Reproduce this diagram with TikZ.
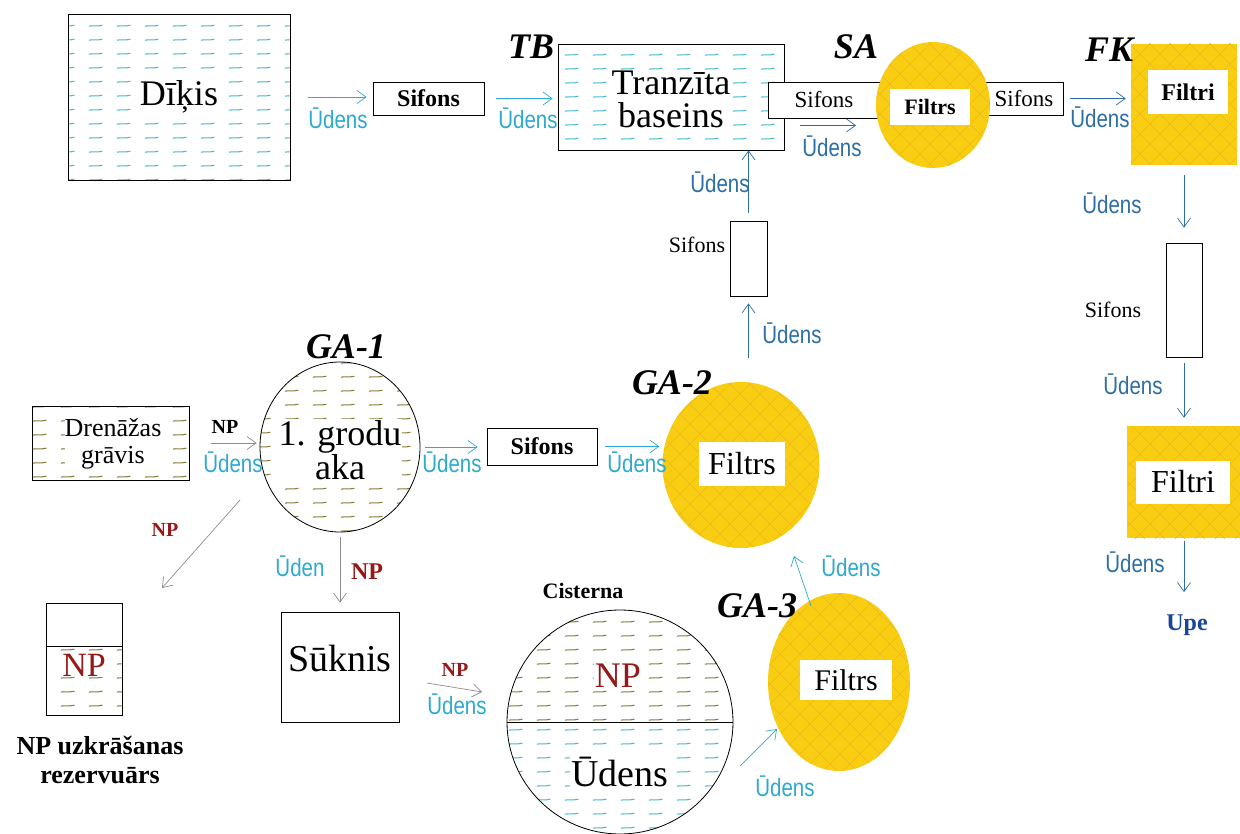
\documentclass[tikz,border=0pt]{standalone}
\usepackage{fontspec}
\setmainfont{Liberation Serif}
\newfontfamily\narrowsans[FakeStretch=0.82]{Liberation Sans}
\usetikzlibrary{arrows.meta,patterns,shapes.geometric}

\definecolor{udens}{RGB}{45,170,205}
\definecolor{udensdark}{RGB}{45,110,165}
\definecolor{npred}{RGB}{150,25,25}
\definecolor{gold}{RGB}{248,205,18}
\definecolor{goldline}{RGB}{238,186,28}
\definecolor{wavecyan}{RGB}{70,185,205}
\definecolor{waveolive}{RGB}{135,125,60}
\definecolor{upeblue}{RGB}{25,70,150}

\pgfdeclarepatternformonly{tildes}{\pgfpoint{0pt}{0pt}}{\pgfpoint{28pt}{13.5pt}}{\pgfpoint{28pt}{13.5pt}}{
  \pgfsetlinewidth{1.1pt}
  \pgfpathmoveto{\pgfpoint{5pt}{6pt}}
  \pgfpathcurveto{\pgfpoint{9pt}{7pt}}{\pgfpoint{13pt}{5.5pt}}{\pgfpoint{19pt}{7pt}}
  \pgfusepath{stroke}
}
\pgfdeclarepatternformonly{diamonds}{\pgfpoint{-1pt}{-1pt}}{\pgfpoint{21pt}{21pt}}{\pgfpoint{20pt}{20pt}}{
  \pgfsetlinewidth{0.6pt}
  \pgfpathmoveto{\pgfpoint{0pt}{0pt}}\pgfpathlineto{\pgfpoint{20pt}{20pt}}
  \pgfpathmoveto{\pgfpoint{0pt}{20pt}}\pgfpathlineto{\pgfpoint{20pt}{0pt}}
  \pgfusepath{stroke}
}

\begin{document}
\begin{tikzpicture}[x=1pt, y=-1pt,
  box/.style={draw, line width=0.8pt, fill=white, inner sep=0pt},
  water/.style={draw, line width=0.8pt, pattern=tildes, pattern color=wavecyan, inner sep=0pt},
  mud/.style={draw, line width=0.8pt, pattern=tildes, pattern color=waveolive, inner sep=0pt},
  filter/.style={fill=gold, postaction={pattern=diamonds, pattern color=goldline}, inner sep=0pt},
  well/.style={ellipse, draw, line width=0.8pt, inner sep=0pt},
  cistern/.style={well, path picture={
    \fill[pattern=tildes, pattern color=waveolive] (path picture bounding box.north west) rectangle (path picture bounding box.east);
    \fill[pattern=tildes, pattern color=wavecyan] (path picture bounding box.west) rectangle (path picture bounding box.south east);
    \draw[line width=0.8pt] (path picture bounding box.west) -- (path picture bounding box.east);}},
  word/.style={fill=white, inner sep=1pt, align=center},
  tag/.style={font=\fontsize{36}{36}\selectfont\bfseries\itshape, inner sep=0pt},
  ulab/.style={text=udens, font=\narrowsans\fontsize{25}{25}\selectfont, inner sep=0pt},
  ulabdark/.style={ulab, text=udensdark},
  nplab/.style={font=\fontsize{20}{20}\selectfont\bfseries, inner sep=0pt},
  flow/.style={draw=udens, line width=0.7pt, -{Straight Barb[length=9pt, width=13pt, line width=0.7pt]}},
  flowdark/.style={flow, draw=udensdark},
  npflow/.style={flow, draw=black!45}]
\useasboundingbox (0,0) rectangle (1240,834);

\node[water, minimum width=222pt, minimum height=166pt] (dikis) at (179,97) {};
\node[word, font=\fontsize{36}{36}\selectfont] (dikistxt) at (dikis) {Dīķis};
\node[box, minimum width=111pt, minimum height=33pt, font=\fontsize{24}{24}\selectfont\bfseries] (sif1) at (428.5,98.5) {Sifons};
\node[water, minimum width=226pt, minimum height=106pt] (tb) at (671,97) {};
\node[word, font=\fontsize{36}{33}\selectfont] (tbtxt) at (671,99) {Tranzīta\\baseins};
\node[box, minimum width=112pt, minimum height=36pt, font=\fontsize{23}{23}\selectfont] (sif2) at (824,100) {Sifons};
\node[box, minimum width=98pt, minimum height=33pt] (sif3) at (1014,98.5) {};
\node[font=\fontsize{23}{23}\selectfont] (sif3txt) at (1024,99) {Sifons};
\node[filter, ellipse, minimum width=114pt, minimum height=126pt] (sa) at (933,105) {};
\node[word, font=\fontsize{22}{22}\selectfont\bfseries, minimum width=80pt, minimum height=36pt] (satxt) at (930,107) {Filtrs};
\node[filter, minimum width=106pt, minimum height=121pt] (fk) at (1184,104.5) {};
\node[word, font=\fontsize{24}{24}\selectfont\bfseries, minimum width=80pt, minimum height=44pt] (fktxt) at (1188,92) {Filtri};
\node[box, minimum width=36pt, minimum height=114pt] (sif4) at (1184,300) {};
\node[font=\fontsize{22}{22}\selectfont] (sif4txt) at (1113,310) {Sifons};
\node[filter, minimum width=114pt, minimum height=112pt] (filtri2) at (1184,482) {};
\node[word, font=\fontsize{32}{32}\selectfont, minimum width=94pt, minimum height=43pt] (filtri2txt) at (1183,482) {Filtri};
\node[font=\fontsize{24}{24}\selectfont\bfseries, text=upeblue] (upe) at (1187,625) {Upe};

\node[box, minimum width=37pt, minimum height=75pt] (sif5) at (748.5,258.5) {};
\node[font=\fontsize{22}{22}\selectfont] (sif5txt) at (697,245) {Sifons};
\node[filter, ellipse, minimum width=157pt, minimum height=166pt] (ga2) at (741,465) {};
\node[word, font=\fontsize{32}{32}\selectfont, minimum width=86pt, minimum height=44pt] (ga2txt) at (742,464) {Filtrs};

\node[mud, minimum width=157pt, minimum height=74pt] (dren) at (110.5,443) {};
\node[word, font=\fontsize{26}{27}\selectfont, inner sep=0pt] (drentxt) at (113,444) {Drenāžas\\grāvis};
\node[well, pattern=tildes, pattern color=waveolive, minimum width=160pt, minimum height=170pt] (ga1) at (340,447) {};
\node[word, font=\fontsize{36}{34}\selectfont] (ga1txt) at (340,450) {1. grodu\\aka};
\node[box, minimum width=110pt, minimum height=37pt, font=\fontsize{24}{24}\selectfont\bfseries] (sif6) at (542,446.5) {Sifons};

\node[box, minimum width=76pt, minimum height=43pt] (restop) at (84,624.5) {};
\node[mud, minimum width=76pt, minimum height=69pt] (resbot) at (84,680.5) {};
\node[word, text=npred, font=\fontsize{34}{34}\selectfont] (restxt) at (84,665) {NP};
\node[font=\fontsize{26}{29}\selectfont\bfseries, align=center] (reslab) at (100,760) {NP uzkrāšanas\\rezervuārs};
\node[box, minimum width=118pt, minimum height=110pt] (suknis) at (340,667) {};
\node[font=\fontsize{38}{38}\selectfont] (suknistxt) at (340,658) {Sūknis};
\node[cistern, minimum width=226pt, minimum height=224pt] (cist) at (620,722) {};
\node[word, text=npred, font=\fontsize{36}{36}\selectfont] (cisttop) at (618,676) {NP};
\node[word, font=\fontsize{38}{38}\selectfont] (cistbot) at (620,772) {Ūdens};
\node[font=\fontsize{22}{22}\selectfont\bfseries] (cistlab) at (583,591) {Cisterna};
\node[filter, ellipse, minimum width=142pt, minimum height=178pt] (ga3) at (839,682) {};
\node[word, font=\fontsize{30}{30}\selectfont, minimum width=92pt, minimum height=40pt] (ga3txt) at (846,680) {Filtrs};

\node[tag] (tbtag) at (531,47) {TB};
\node[tag] (satag) at (856,47) {SA};
\node[tag] (fktag) at (1109,50) {FK};
\node[tag] (ga1tag) at (346,347) {GA-1};
\node[tag] (ga2tag) at (672,383) {GA-2};
\node[tag] (ga3tag) at (757,606) {GA-3};

\draw[flow, shorten <=18pt, shorten >=6pt] (dikis.east) -- (dikis.east -| sif1.west);
\node[ulab] (u1) at (338,118) {Ūdens};
\draw[flow, shorten <=12pt, shorten >=5pt] (sif1.east) -- (sif1.east -| tb.west);
\node[ulab] (u2) at (528,118) {Ūdens};
\draw[flowdark] ([shift={(-24pt,-7pt)}]sif2.south) -- ([shift={(32pt,-7pt)}]sif2.south);
\node[ulabdark] (u3) at (832,146) {Ūdens};
\draw[flowdark, shorten <=7pt, shorten >=5pt] (sif3.east) -- (sif3.east -| fk.west);
\node[ulabdark] (u4) at (1100,117) {Ūdens};
\draw[flowdark, shorten <=10pt, shorten >=15pt] (fk.south) -- (sif4.north);
\node[ulabdark] (u5) at (1112,203) {Ūdens};
\draw[flowdark, shorten <=6pt, shorten >=8pt] (sif4.south) -- (filtri2.north);
\node[ulabdark] (u6) at (1133,384) {Ūdens};
\draw[flowdark, shorten <=3pt, shorten >=19pt] (filtri2.south) -- (filtri2.south |- upe.north);
\node[ulabdark] (u7) at (1135,562) {Ūdens};
\node[ulabdark] (u8) at (720,182) {Ūdens};
\draw[flowdark, shorten <=8pt] (sif5.north) -- (sif5.north |- tb.south);
\draw[flowdark, shorten <=24pt, shorten >=7pt] (sif5.south |- ga2.north) -- (sif5.south);
\node[ulabdark] (u9) at (792,333) {Ūdens};

\draw[npflow, shorten <=22pt, shorten >=3pt] (dren.east) -- (dren.east -| ga1.west);
\node[nplab] (np1) at (225,427) {NP};
\node[ulab] (u10) at (233,462) {Ūdens};
\draw[flow, shorten <=5pt, shorten >=9pt] (ga1.east) -- (ga1.east -| sif6.west);
\node[ulab] (u11) at (452,462) {Ūdens};
\draw[flow, shorten <=8pt, shorten >=3pt] (sif6.east) -- (sif6.east -| ga2.west);
\node[ulab] (u12) at (637,462) {Ūdens};

\coordinate (npfrom) at (240,500);
\coordinate (npto) at (162,588);
\draw[npflow] (npfrom) -- (npto);
\node[nplab, text=npred] (np2) at (165,530) {NP};
\draw[npflow, shorten <=5pt, shorten >=9pt] (ga1.south) -- (suknis.north);
\node[ulab] (u13) at (300,566) {Ūden};
\node[nplab, text=npred, font=\fontsize{24}{24}\selectfont\bfseries] (np3) at (367,572) {NP};
\coordinate (pumpfrom) at (427,683);
\coordinate (pumpto) at (482,692);
\draw[npflow] (pumpfrom) -- (pumpto);
\node[nplab, text=npred] (np4) at (455,670) {NP};
\node[ulab] (u14) at (457,704) {Ūdens};
\coordinate (ga3from) at (811,606);
\coordinate (ga2to) at (794,556);
\draw[flow] (ga3from) -- (ga2to);
\node[ulab] (u15) at (851,566) {Ūdens};
\coordinate (cistfrom) at (740,766);
\coordinate (ga3to) at (777,729);
\draw[flow] (cistfrom) -- (ga3to);
\node[ulab] (u16) at (785,786) {Ūdens};
\end{tikzpicture}
\end{document}
